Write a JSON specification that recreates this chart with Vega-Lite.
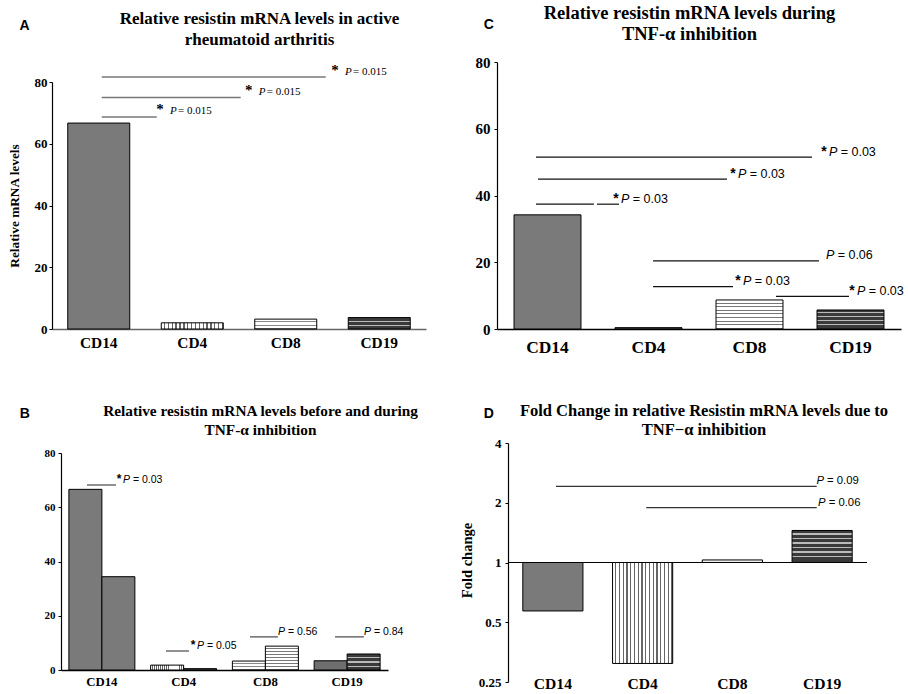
{
  "$schema": "https://vega.github.io/schema/vega-lite/v6.json",
  "padding": 0,
  "background": "white",
  "config": {
    "view": {"stroke": null},
    "axis": {"grid": false, "labelColor": "#000", "titleColor": "#000", "domainColor": "#000", "tickColor": "#000", "labelFont": "Liberation Serif", "labelFontWeight": "bold"}
  },
  "datasets": {
    "abar": [{"cell": "CD14", "v": 66.7}, {"cell": "CD4", "v": 2.0}, {"cell": "CD8", "v": 3.2}, {"cell": "CD19", "v": 3.7}],
    "anote": [
      {"x1": 0.532, "x2": 1.12, "v": 68.7, "lx": 1.262, "star": "*", "p": "P", "rest": "= 0.015"},
      {"x1": 0.532, "x2": 2.018, "v": 75.0, "lx": 2.211, "star": "*", "p": "P", "rest": "= 0.015"},
      {"x1": 0.532, "x2": 2.927, "v": 81.6, "lx": 3.134, "star": "*", "p": "P", "rest": "= 0.015"}
    ],
    "bbar": [
      {"cell": "CD14", "t": "before", "v": 66.6}, {"cell": "CD14", "t": "during", "v": 34.4},
      {"cell": "CD4", "t": "before", "v": 1.8}, {"cell": "CD4", "t": "during", "v": 0.5},
      {"cell": "CD8", "t": "before", "v": 3.3}, {"cell": "CD8", "t": "during", "v": 8.8},
      {"cell": "CD19", "t": "before", "v": 3.4}, {"cell": "CD19", "t": "during", "v": 5.9}
    ],
    "bnote": [
      {"x1": 0.318, "x2": 0.673, "v": 68.2, "lx": 0.758, "star": "*", "p": "P", "rest": "= 0.03"},
      {"x1": 1.284, "x2": 1.566, "v": 7.0, "lx": 1.664, "star": "*", "p": "P", "rest": "= 0.05"},
      {"x1": 2.312, "x2": 2.654, "v": 12.2, "lx": 2.654, "star": "", "p": "P", "rest": "= 0.56"},
      {"x1": 3.352, "x2": 3.706, "v": 12.2, "lx": 3.706, "star": "", "p": "P", "rest": "= 0.84"}
    ],
    "cbar": [{"cell": "CD14", "v": 34.2}, {"cell": "CD4", "v": 0.4}, {"cell": "CD8", "v": 8.7}, {"cell": "CD19", "v": 5.7}],
    "cnote": [
      {"x1": 0.386, "x2": 3.119, "v": 51.5, "lx": 3.287, "star": "*", "p": "P", "rest": "= 0.03"},
      {"x1": 0.406, "x2": 2.277, "v": 44.9, "lx": 2.386, "star": "*", "p": "P", "rest": "= 0.03"},
      {"x1": 0.386, "x2": 0.96, "v": 37.4, "lx": 1.228, "star": "*", "p": "P", "rest": "= 0.03"},
      {"x1": 0.99, "x2": 1.208, "v": 37.4, "lx": 1.228, "star": "", "p": "", "rest": ""},
      {"x1": 1.545, "x2": 3.188, "v": 20.4, "lx": 3.257, "star": "", "p": "P", "rest": "= 0.06"},
      {"x1": 1.545, "x2": 2.337, "v": 12.7, "lx": 2.436, "star": "*", "p": "P", "rest": "= 0.03"},
      {"x1": 2.762, "x2": 3.485, "v": 9.8, "lx": 3.564, "star": "*", "p": "P", "rest": "= 0.03"}
    ],
    "dbar": [{"cell": "CD14", "v": 0.57}, {"cell": "CD4", "v": 0.31}, {"cell": "CD8", "v": 1.03}, {"cell": "CD19", "v": 1.45}],
    "dnote": [
      {"x1": 0.535, "x2": 3.44, "v": 2.42, "lx": 3.437, "star": "", "p": "P", "rest": "= 0.09"},
      {"x1": 1.54, "x2": 3.44, "v": 1.89, "lx": 3.455, "star": "", "p": "P", "rest": "= 0.06"}
    ]
  },
  "hconcat": [
    {
      "spacing": 0,
      "vconcat": [
        {
          "width": 365, "height": 247,
          "layer": [
            {
              "data": {"name": "abar"},
              "mark": {"type": "bar", "stroke": "#000", "strokeWidth": 1},
              "encoding": {
                "x": {"field": "cell", "type": "nominal", "sort": ["CD14", "CD4", "CD8", "CD19"],
                  "scale": {"domain": ["CD14", "CD4", "CD8", "CD19"], "range": [-9, 365], "paddingInner": 0.337, "paddingOuter": 0.1685},
                  "axis": {"orient": "bottom", "labelAngle": 0, "labelFontSize": 15.4, "labelPadding": 6, "ticks": false, "tickSize": 0, "domainColor": "#666", "domainWidth": 1.5, "minExtent": 30, "maxExtent": 30,
                    "title": "A", "titleX": -42, "titleY": -300, "titleAngle": 0, "titleAlign": "left", "titleBaseline": "alphabetic", "titleFont": "Liberation Sans", "titleFontSize": 14, "titleFontWeight": "bold"}},
                "y": {"field": "v", "type": "quantitative", "scale": {"domain": [0, 80]},
                  "axis": {"offset": 9, "values": [0, 20, 40, 60, 80], "labelFontSize": 13, "tickSize": 3, "labelPadding": 2, "domainWidth": 1.2, "minExtent": 52, "maxExtent": 52,
                    "title": "Relative mRNA levels", "titleX": -37.5, "titleY": 123.5, "titleAngle": -90, "titleAlign": "center", "titleBaseline": "middle", "titleFont": "Liberation Serif", "titleFontSize": 13.3, "titleFontWeight": "bold"}},
                "fill": {
                  "condition": [
                    {"test": "datum.cell === 'CD4'", "value": {"gradient": "linear", "x1": 0, "y1": 0, "x2": 1, "y2": 0, "stops": [
                      {"offset": 0, "color": "#fff"}, {"offset": 0.0406, "color": "#fff"}, {"offset": 0.0406, "color": "#666"}, {"offset": 0.0625, "color": "#666"},
                      {"offset": 0.0625, "color": "#fff"}, {"offset": 0.1031, "color": "#fff"}, {"offset": 0.1031, "color": "#666"}, {"offset": 0.125, "color": "#666"},
                      {"offset": 0.125, "color": "#fff"}, {"offset": 0.1656, "color": "#fff"}, {"offset": 0.1656, "color": "#666"}, {"offset": 0.1875, "color": "#666"},
                      {"offset": 0.1875, "color": "#fff"}, {"offset": 0.2281, "color": "#fff"}, {"offset": 0.2281, "color": "#666"}, {"offset": 0.25, "color": "#666"},
                      {"offset": 0.25, "color": "#fff"}, {"offset": 0.2906, "color": "#fff"}, {"offset": 0.2906, "color": "#666"}, {"offset": 0.3125, "color": "#666"},
                      {"offset": 0.3125, "color": "#fff"}, {"offset": 0.3531, "color": "#fff"}, {"offset": 0.3531, "color": "#666"}, {"offset": 0.375, "color": "#666"},
                      {"offset": 0.375, "color": "#fff"}, {"offset": 0.4156, "color": "#fff"}, {"offset": 0.4156, "color": "#666"}, {"offset": 0.4375, "color": "#666"},
                      {"offset": 0.4375, "color": "#fff"}, {"offset": 0.4781, "color": "#fff"}, {"offset": 0.4781, "color": "#666"}, {"offset": 0.5, "color": "#666"},
                      {"offset": 0.5, "color": "#fff"}, {"offset": 0.5406, "color": "#fff"}, {"offset": 0.5406, "color": "#666"}, {"offset": 0.5625, "color": "#666"},
                      {"offset": 0.5625, "color": "#fff"}, {"offset": 0.6031, "color": "#fff"}, {"offset": 0.6031, "color": "#666"}, {"offset": 0.625, "color": "#666"},
                      {"offset": 0.625, "color": "#fff"}, {"offset": 0.6656, "color": "#fff"}, {"offset": 0.6656, "color": "#666"}, {"offset": 0.6875, "color": "#666"},
                      {"offset": 0.6875, "color": "#fff"}, {"offset": 0.7281, "color": "#fff"}, {"offset": 0.7281, "color": "#666"}, {"offset": 0.75, "color": "#666"},
                      {"offset": 0.75, "color": "#fff"}, {"offset": 0.7906, "color": "#fff"}, {"offset": 0.7906, "color": "#666"}, {"offset": 0.8125, "color": "#666"},
                      {"offset": 0.8125, "color": "#fff"}, {"offset": 0.8531, "color": "#fff"}, {"offset": 0.8531, "color": "#666"}, {"offset": 0.875, "color": "#666"},
                      {"offset": 0.875, "color": "#fff"}, {"offset": 0.9156, "color": "#fff"}, {"offset": 0.9156, "color": "#666"}, {"offset": 0.9375, "color": "#666"},
                      {"offset": 0.9375, "color": "#fff"}, {"offset": 0.9781, "color": "#fff"}, {"offset": 0.9781, "color": "#666"}, {"offset": 1, "color": "#666"}]}},
                    {"test": "datum.cell === 'CD8'", "value": {"gradient": "linear", "x1": 0, "y1": 0, "x2": 0, "y2": 1, "stops": [
                      {"offset": 0, "color": "#fff"}, {"offset": 0.2333, "color": "#fff"}, {"offset": 0.2333, "color": "#888"}, {"offset": 0.3333, "color": "#888"},
                      {"offset": 0.3333, "color": "#fff"}, {"offset": 0.5667, "color": "#fff"}, {"offset": 0.5667, "color": "#888"}, {"offset": 0.6667, "color": "#888"},
                      {"offset": 0.6667, "color": "#fff"}, {"offset": 0.9, "color": "#fff"}, {"offset": 0.9, "color": "#888"}, {"offset": 1, "color": "#888"}]}},
                    {"test": "datum.cell === 'CD19'", "value": {"gradient": "linear", "x1": 0, "y1": 0, "x2": 0, "y2": 1, "stops": [
                      {"offset": 0, "color": "#3a3a3a"}, {"offset": 0.28, "color": "#3a3a3a"}, {"offset": 0.28, "color": "#bbb"}, {"offset": 0.38, "color": "#bbb"},
                      {"offset": 0.38, "color": "#3a3a3a"}, {"offset": 0.62, "color": "#3a3a3a"}, {"offset": 0.62, "color": "#bbb"}, {"offset": 0.72, "color": "#bbb"},
                      {"offset": 0.72, "color": "#3a3a3a"}, {"offset": 1, "color": "#3a3a3a"}]}}
                  ],
                  "value": "#7a7a7a"
                }
              }
            },
            {
              "data": {"name": "anote"},
              "layer": [
                {"mark": {"type": "rule", "stroke": "#777", "strokeWidth": 1.5},
                  "encoding": {
                    "x": {"field": "x1", "type": "quantitative", "scale": {"domain": [0, 4], "range": [-9, 365], "nice": false, "zero": false},
                      "axis": {"orient": "top", "domain": false, "ticks": false, "labels": false, "minExtent": 82, "maxExtent": 82,
                        "title": ["Relative resistin mRNA levels in active", "rheumatoid arthritis\u00a0\u00a0\u00a0\u00a0\u00a0\u00a0\u00a0\u00a0"],
                        "titleX": 198, "titleY": -58.5, "titleAlign": "center", "titleBaseline": "alphabetic", "titleFont": "Liberation Serif", "titleFontSize": 17, "titleFontWeight": "bold", "titleLineHeight": 21}},
                    "x2": {"field": "x2"},
                    "y": {"field": "v", "type": "quantitative", "scale": {"domain": [0, 80]}}}},
                {"mark": {"type": "text", "align": "center", "baseline": "alphabetic", "dx": -10, "dy": -2.5, "font": "Liberation Serif", "fontSize": 15, "fontWeight": "bold", "fill": "#000"},
                  "encoding": {"x": {"field": "lx", "type": "quantitative", "scale": {"domain": [0, 4], "range": [-9, 365]}}, "y": {"field": "v", "type": "quantitative", "scale": {"domain": [0, 80]}}, "text": {"field": "star"}}},
                {"mark": {"type": "text", "align": "left", "baseline": "alphabetic", "dy": -2.5, "font": "Liberation Serif", "fontSize": 11, "fontStyle": "italic", "fill": "#000"},
                  "encoding": {"x": {"field": "lx", "type": "quantitative", "scale": {"domain": [0, 4], "range": [-9, 365]}}, "y": {"field": "v", "type": "quantitative", "scale": {"domain": [0, 80]}}, "text": {"field": "p"}}},
                {"mark": {"type": "text", "align": "left", "baseline": "alphabetic", "dx": 8, "dy": -2.5, "font": "Liberation Serif", "fontSize": 11, "fill": "#000"},
                  "encoding": {"x": {"field": "lx", "type": "quantitative", "scale": {"domain": [0, 4], "range": [-9, 365]}}, "y": {"field": "v", "type": "quantitative", "scale": {"domain": [0, 80]}}, "text": {"field": "rest"}}}
              ]
            }
          ],
          "resolve": {"scale": {"x": "independent"}, "axis": {"x": "independent"}}
        },
        {
          "width": 327, "height": 217,
          "layer": [
            {
              "data": {"name": "bbar"},
              "mark": {"type": "bar", "stroke": "#000", "strokeWidth": 1},
              "encoding": {
                "x": {"field": "cell", "type": "nominal", "sort": ["CD14", "CD4", "CD8", "CD19"],
                  "scale": {"domain": ["CD14", "CD4", "CD8", "CD19"], "paddingInner": 0.193, "paddingOuter": 0.0965},
                  "axis": {"orient": "bottom", "labelAngle": 0, "labelFontSize": 12.8, "labelPadding": 5, "ticks": false, "tickSize": 0, "domainWidth": 1.3,
                    "title": "B", "titleX": -41.7, "titleY": -253, "titleAngle": 0, "titleAlign": "left", "titleBaseline": "alphabetic", "titleFont": "Liberation Sans", "titleFontSize": 14, "titleFontWeight": "bold"}},
                "xOffset": {"field": "t", "type": "nominal", "sort": ["before", "during"], "scale": {"paddingInner": 0, "paddingOuter": 0}},
                "y": {"field": "v", "type": "quantitative", "scale": {"domain": [0, 80]},
                  "axis": {"values": [0, 20, 40, 60, 80], "labelFontSize": 11, "tickSize": 3, "labelPadding": 3, "domainWidth": 1.2, "minExtent": 61, "maxExtent": 61, "title": null}},
                "fill": {
                  "condition": [
                    {"test": "datum.cell === 'CD4' && datum.t === 'before'", "value": {"gradient": "linear", "x1": 0, "y1": 0, "x2": 1, "y2": 0, "stops": [
                      {"offset": 0, "color": "#fff"}, {"offset": 0.0406, "color": "#fff"}, {"offset": 0.0406, "color": "#666"}, {"offset": 0.0625, "color": "#666"},
                      {"offset": 0.0625, "color": "#fff"}, {"offset": 0.1031, "color": "#fff"}, {"offset": 0.1031, "color": "#666"}, {"offset": 0.125, "color": "#666"},
                      {"offset": 0.125, "color": "#fff"}, {"offset": 0.1656, "color": "#fff"}, {"offset": 0.1656, "color": "#666"}, {"offset": 0.1875, "color": "#666"},
                      {"offset": 0.1875, "color": "#fff"}, {"offset": 0.2281, "color": "#fff"}, {"offset": 0.2281, "color": "#666"}, {"offset": 0.25, "color": "#666"},
                      {"offset": 0.25, "color": "#fff"}, {"offset": 0.2906, "color": "#fff"}, {"offset": 0.2906, "color": "#666"}, {"offset": 0.3125, "color": "#666"},
                      {"offset": 0.3125, "color": "#fff"}, {"offset": 0.3531, "color": "#fff"}, {"offset": 0.3531, "color": "#666"}, {"offset": 0.375, "color": "#666"},
                      {"offset": 0.375, "color": "#fff"}, {"offset": 0.4156, "color": "#fff"}, {"offset": 0.4156, "color": "#666"}, {"offset": 0.4375, "color": "#666"},
                      {"offset": 0.4375, "color": "#fff"}, {"offset": 0.4781, "color": "#fff"}, {"offset": 0.4781, "color": "#666"}, {"offset": 0.5, "color": "#666"},
                      {"offset": 0.5, "color": "#fff"}, {"offset": 0.5406, "color": "#fff"}, {"offset": 0.5406, "color": "#666"}, {"offset": 0.5625, "color": "#666"},
                      {"offset": 0.5625, "color": "#fff"}, {"offset": 0.6031, "color": "#fff"}, {"offset": 0.6031, "color": "#666"}, {"offset": 0.625, "color": "#666"},
                      {"offset": 0.625, "color": "#fff"}, {"offset": 0.6656, "color": "#fff"}, {"offset": 0.6656, "color": "#666"}, {"offset": 0.6875, "color": "#666"},
                      {"offset": 0.6875, "color": "#fff"}, {"offset": 0.7281, "color": "#fff"}, {"offset": 0.7281, "color": "#666"}, {"offset": 0.75, "color": "#666"},
                      {"offset": 0.75, "color": "#fff"}, {"offset": 0.7906, "color": "#fff"}, {"offset": 0.7906, "color": "#666"}, {"offset": 0.8125, "color": "#666"},
                      {"offset": 0.8125, "color": "#fff"}, {"offset": 0.8531, "color": "#fff"}, {"offset": 0.8531, "color": "#666"}, {"offset": 0.875, "color": "#666"},
                      {"offset": 0.875, "color": "#fff"}, {"offset": 0.9156, "color": "#fff"}, {"offset": 0.9156, "color": "#666"}, {"offset": 0.9375, "color": "#666"},
                      {"offset": 0.9375, "color": "#fff"}, {"offset": 0.9781, "color": "#fff"}, {"offset": 0.9781, "color": "#666"}, {"offset": 1, "color": "#666"}]}},
                    {"test": "datum.cell === 'CD8' && datum.t === 'before'", "value": {"gradient": "linear", "x1": 0, "y1": 0, "x2": 0, "y2": 1, "stops": [
                      {"offset": 0, "color": "#fff"}, {"offset": 0.2333, "color": "#fff"}, {"offset": 0.2333, "color": "#888"}, {"offset": 0.3333, "color": "#888"},
                      {"offset": 0.3333, "color": "#fff"}, {"offset": 0.5667, "color": "#fff"}, {"offset": 0.5667, "color": "#888"}, {"offset": 0.6667, "color": "#888"},
                      {"offset": 0.6667, "color": "#fff"}, {"offset": 0.9, "color": "#fff"}, {"offset": 0.9, "color": "#888"}, {"offset": 1, "color": "#888"}]}},
                    {"test": "datum.cell === 'CD8' && datum.t === 'during'", "value": {"gradient": "linear", "x1": 0, "y1": 0, "x2": 0, "y2": 1, "stops": [
                      {"offset": 0, "color": "#fff"}, {"offset": 0.0875, "color": "#fff"}, {"offset": 0.0875, "color": "#777"}, {"offset": 0.125, "color": "#777"},
                      {"offset": 0.125, "color": "#fff"}, {"offset": 0.2125, "color": "#fff"}, {"offset": 0.2125, "color": "#777"}, {"offset": 0.25, "color": "#777"},
                      {"offset": 0.25, "color": "#fff"}, {"offset": 0.3375, "color": "#fff"}, {"offset": 0.3375, "color": "#777"}, {"offset": 0.375, "color": "#777"},
                      {"offset": 0.375, "color": "#fff"}, {"offset": 0.4625, "color": "#fff"}, {"offset": 0.4625, "color": "#777"}, {"offset": 0.5, "color": "#777"},
                      {"offset": 0.5, "color": "#fff"}, {"offset": 0.5875, "color": "#fff"}, {"offset": 0.5875, "color": "#777"}, {"offset": 0.625, "color": "#777"},
                      {"offset": 0.625, "color": "#fff"}, {"offset": 0.7125, "color": "#fff"}, {"offset": 0.7125, "color": "#777"}, {"offset": 0.75, "color": "#777"},
                      {"offset": 0.75, "color": "#fff"}, {"offset": 0.8375, "color": "#fff"}, {"offset": 0.8375, "color": "#777"}, {"offset": 0.875, "color": "#777"},
                      {"offset": 0.875, "color": "#fff"}, {"offset": 0.9625, "color": "#fff"}, {"offset": 0.9625, "color": "#777"}, {"offset": 1, "color": "#777"}]}},
                    {"test": "datum.cell === 'CD4'", "value": "#505050"},
                    {"test": "datum.cell === 'CD19' && datum.t === 'before'", "value": "#6e6e6e"},
                    {"test": "datum.cell === 'CD19'", "value": {"gradient": "linear", "x1": 0, "y1": 0, "x2": 0, "y2": 1, "stops": [
                      {"offset": 0, "color": "#3a3a3a"}, {"offset": 0.2, "color": "#3a3a3a"}, {"offset": 0.2, "color": "#bbb"}, {"offset": 0.28, "color": "#bbb"},
                      {"offset": 0.28, "color": "#3a3a3a"}, {"offset": 0.46, "color": "#3a3a3a"}, {"offset": 0.46, "color": "#bbb"}, {"offset": 0.54, "color": "#bbb"},
                      {"offset": 0.54, "color": "#3a3a3a"}, {"offset": 0.72, "color": "#3a3a3a"}, {"offset": 0.72, "color": "#bbb"}, {"offset": 0.8, "color": "#bbb"},
                      {"offset": 0.8, "color": "#3a3a3a"}, {"offset": 1, "color": "#3a3a3a"}]}}
                  ],
                  "value": "#7a7a7a"
                }
              }
            },
            {
              "data": {"name": "bnote"},
              "layer": [
                {"mark": {"type": "rule", "stroke": "#222", "strokeWidth": 1},
                  "encoding": {
                    "x": {"field": "x1", "type": "quantitative", "scale": {"domain": [0, 4], "nice": false, "zero": false},
                      "axis": {"orient": "top", "domain": false, "ticks": false, "labels": false, "minExtent": 94, "maxExtent": 94,
                        "title": ["Relative resistin mRNA levels before and during", "TNF-\u03b1 inhibition\u00a0\u00a0\u00a0\u00a0\u00a0\u00a0\u00a0\u00a0\u00a0\u00a0\u00a0\u00a0\u00a0"],
                        "titleX": 199, "titleY": -38, "titleAlign": "center", "titleBaseline": "alphabetic", "titleFont": "Liberation Serif", "titleFontSize": 15.3, "titleFontWeight": "bold", "titleLineHeight": 19}},
                    "x2": {"field": "x2"},
                    "y": {"field": "v", "type": "quantitative", "scale": {"domain": [0, 80]}}}},
                {"mark": {"type": "text", "align": "center", "baseline": "alphabetic", "dx": -4, "dy": -2, "font": "Liberation Sans", "fontSize": 12, "fontWeight": "bold", "fill": "#000"},
                  "encoding": {"x": {"field": "lx", "type": "quantitative", "scale": {"domain": [0, 4]}}, "y": {"field": "v", "type": "quantitative", "scale": {"domain": [0, 80]}}, "text": {"field": "star"}}},
                {"mark": {"type": "text", "align": "left", "baseline": "alphabetic", "dy": -2, "font": "Liberation Sans", "fontSize": 10.5, "fontStyle": "italic", "fill": "#000"},
                  "encoding": {"x": {"field": "lx", "type": "quantitative", "scale": {"domain": [0, 4]}}, "y": {"field": "v", "type": "quantitative", "scale": {"domain": [0, 80]}}, "text": {"field": "p"}}},
                {"mark": {"type": "text", "align": "left", "baseline": "alphabetic", "dx": 10, "dy": -2, "font": "Liberation Sans", "fontSize": 10.5, "fill": "#000"},
                  "encoding": {"x": {"field": "lx", "type": "quantitative", "scale": {"domain": [0, 4]}}, "y": {"field": "v", "type": "quantitative", "scale": {"domain": [0, 80]}}, "text": {"field": "rest"}}}
              ]
            }
          ],
          "resolve": {"scale": {"x": "independent"}, "axis": {"x": "independent"}}
        }
      ]
    },
    {
      "spacing": 0,
      "vconcat": [
        {
          "width": 393, "height": 247,
          "layer": [
            {
              "data": {"name": "cbar"},
              "mark": {"type": "bar", "stroke": "#000", "strokeWidth": 1},
              "encoding": {
                "x": {"field": "cell", "type": "nominal", "sort": ["CD14", "CD4", "CD8", "CD19"],
                  "scale": {"domain": ["CD14", "CD4", "CD8", "CD19"], "range": [-11, 393], "paddingInner": 0.337, "paddingOuter": 0.1685},
                  "axis": {"orient": "bottom", "labelAngle": 0, "labelFontSize": 17.4, "labelPadding": 9, "ticks": false, "tickSize": 0, "domainWidth": 1.3, "minExtent": 30, "maxExtent": 30,
                    "title": "C", "titleX": -24.7, "titleY": -300.7, "titleAngle": 0, "titleAlign": "left", "titleBaseline": "alphabetic", "titleFont": "Liberation Sans", "titleFontSize": 14, "titleFontWeight": "bold"}},
                "y": {"field": "v", "type": "quantitative", "scale": {"domain": [0, 80], "range": [247, -20]},
                  "axis": {"offset": 11, "values": [0, 20, 40, 60, 80], "labelFontSize": 15, "tickSize": 3, "labelPadding": 4, "domainWidth": 1.2, "minExtent": 62, "maxExtent": 62, "title": null}},
                "fill": {
                  "condition": [
                    {"test": "datum.cell === 'CD8'", "value": {"gradient": "linear", "x1": 0, "y1": 0, "x2": 0, "y2": 1, "stops": [
                      {"offset": 0, "color": "#fff"}, {"offset": 0.0875, "color": "#fff"}, {"offset": 0.0875, "color": "#777"}, {"offset": 0.125, "color": "#777"},
                      {"offset": 0.125, "color": "#fff"}, {"offset": 0.2125, "color": "#fff"}, {"offset": 0.2125, "color": "#777"}, {"offset": 0.25, "color": "#777"},
                      {"offset": 0.25, "color": "#fff"}, {"offset": 0.3375, "color": "#fff"}, {"offset": 0.3375, "color": "#777"}, {"offset": 0.375, "color": "#777"},
                      {"offset": 0.375, "color": "#fff"}, {"offset": 0.4625, "color": "#fff"}, {"offset": 0.4625, "color": "#777"}, {"offset": 0.5, "color": "#777"},
                      {"offset": 0.5, "color": "#fff"}, {"offset": 0.5875, "color": "#fff"}, {"offset": 0.5875, "color": "#777"}, {"offset": 0.625, "color": "#777"},
                      {"offset": 0.625, "color": "#fff"}, {"offset": 0.7125, "color": "#fff"}, {"offset": 0.7125, "color": "#777"}, {"offset": 0.75, "color": "#777"},
                      {"offset": 0.75, "color": "#fff"}, {"offset": 0.8375, "color": "#fff"}, {"offset": 0.8375, "color": "#777"}, {"offset": 0.875, "color": "#777"},
                      {"offset": 0.875, "color": "#fff"}, {"offset": 0.9625, "color": "#fff"}, {"offset": 0.9625, "color": "#777"}, {"offset": 1, "color": "#777"}]}},
                    {"test": "datum.cell === 'CD4'", "value": "#505050"},
                    {"test": "datum.cell === 'CD19'", "value": {"gradient": "linear", "x1": 0, "y1": 0, "x2": 0, "y2": 1, "stops": [
                      {"offset": 0, "color": "#3a3a3a"}, {"offset": 0.12, "color": "#3a3a3a"}, {"offset": 0.12, "color": "#bbb"}, {"offset": 0.17, "color": "#bbb"},
                      {"offset": 0.17, "color": "#3a3a3a"}, {"offset": 0.32, "color": "#3a3a3a"}, {"offset": 0.32, "color": "#bbb"}, {"offset": 0.37, "color": "#bbb"},
                      {"offset": 0.37, "color": "#3a3a3a"}, {"offset": 0.52, "color": "#3a3a3a"}, {"offset": 0.52, "color": "#bbb"}, {"offset": 0.57, "color": "#bbb"},
                      {"offset": 0.57, "color": "#3a3a3a"}, {"offset": 0.72, "color": "#3a3a3a"}, {"offset": 0.72, "color": "#bbb"}, {"offset": 0.77, "color": "#bbb"},
                      {"offset": 0.77, "color": "#3a3a3a"}, {"offset": 1, "color": "#3a3a3a"}]}}
                  ],
                  "value": "#7a7a7a"
                }
              }
            },
            {
              "data": {"name": "cnote"},
              "layer": [
                {"mark": {"type": "rule", "stroke": "#111", "strokeWidth": 1.2},
                  "encoding": {
                    "x": {"field": "x1", "type": "quantitative", "scale": {"domain": [0, 4], "range": [-11, 393], "nice": false, "zero": false},
                      "axis": {"orient": "top", "domain": false, "ticks": false, "labels": false, "minExtent": 82, "maxExtent": 82,
                        "title": ["Relative resistin mRNA levels during", "TNF-\u03b1 inhibition\u00a0\u00a0\u00a0\u00a0\u00a0\u00a0"],
                        "titleX": 181, "titleY": -63.7, "titleAlign": "center", "titleBaseline": "alphabetic", "titleFont": "Liberation Serif", "titleFontSize": 18.5, "titleFontWeight": "bold", "titleLineHeight": 21}},
                    "x2": {"field": "x2"},
                    "y": {"field": "v", "type": "quantitative", "scale": {"domain": [0, 80], "range": [247, -20]}}}},
                {"mark": {"type": "text", "align": "center", "baseline": "alphabetic", "dx": -5, "dy": -1.5, "font": "Liberation Sans", "fontSize": 14, "fontWeight": "bold", "fill": "#000"},
                  "encoding": {"x": {"field": "lx", "type": "quantitative", "scale": {"domain": [0, 4], "range": [-11, 393]}}, "y": {"field": "v", "type": "quantitative", "scale": {"domain": [0, 80], "range": [247, -20]}}, "text": {"field": "star"}}},
                {"mark": {"type": "text", "align": "left", "baseline": "alphabetic", "dy": -1.5, "font": "Liberation Sans", "fontSize": 12.5, "fontStyle": "italic", "fill": "#000"},
                  "encoding": {"x": {"field": "lx", "type": "quantitative", "scale": {"domain": [0, 4], "range": [-11, 393]}}, "y": {"field": "v", "type": "quantitative", "scale": {"domain": [0, 80], "range": [247, -20]}}, "text": {"field": "p"}}},
                {"mark": {"type": "text", "align": "left", "baseline": "alphabetic", "dx": 11.7, "dy": -1.5, "font": "Liberation Sans", "fontSize": 12.5, "fill": "#000"},
                  "encoding": {"x": {"field": "lx", "type": "quantitative", "scale": {"domain": [0, 4], "range": [-11, 393]}}, "y": {"field": "v", "type": "quantitative", "scale": {"domain": [0, 80], "range": [247, -20]}}, "text": {"field": "rest"}}}
              ]
            }
          ],
          "resolve": {"scale": {"x": "independent"}, "axis": {"x": "independent"}}
        },
        {
          "width": 359, "height": 239,
          "layer": [
            {
              "data": {"name": "dbar"},
              "layer": [
                {
                  "mark": {"type": "bar", "stroke": "#000", "strokeWidth": 1},
                  "encoding": {
                    "x": {"field": "cell", "type": "nominal", "sort": ["CD14", "CD4", "CD8", "CD19"],
                      "scale": {"domain": ["CD14", "CD4", "CD8", "CD19"], "paddingInner": 0.33, "paddingOuter": 0.165},
                      "axis": {"orient": "bottom", "labelAngle": 0, "labelFontSize": 15.6, "labelPadding": -5.3, "ticks": false, "tickSize": 0, "domain": false,
                        "title": "D", "titleX": -24.7, "titleY": -264.7, "titleAngle": 0, "titleAlign": "left", "titleBaseline": "alphabetic", "titleFont": "Liberation Sans", "titleFontSize": 14, "titleFontWeight": "bold"}},
                    "y": {"field": "v", "type": "quantitative", "scale": {"type": "log", "base": 2, "domain": [0.25, 4]},
                      "axis": {"values": [0.25, 0.5, 1, 2, 4], "format": "~g", "labelFontSize": 13, "tickSize": 3, "labelPadding": 4, "domainWidth": 1.2, "minExtent": 73, "maxExtent": 73,
                        "title": "Fold change", "titleX": -41, "titleY": 117, "titleAngle": -90, "titleAlign": "center", "titleBaseline": "middle", "titleFont": "Liberation Serif", "titleFontSize": 14.5, "titleFontWeight": "bold"}},
                    "y2": {"datum": 1},
                    "fill": {
                      "condition": [
                        {"test": "datum.cell === 'CD4'", "value": {"gradient": "linear", "x1": 0, "y1": 0, "x2": 1, "y2": 0, "stops": [
                          {"offset": 0, "color": "#fff"}, {"offset": 0.0406, "color": "#fff"}, {"offset": 0.0406, "color": "#666"}, {"offset": 0.0625, "color": "#666"},
                          {"offset": 0.0625, "color": "#fff"}, {"offset": 0.1031, "color": "#fff"}, {"offset": 0.1031, "color": "#666"}, {"offset": 0.125, "color": "#666"},
                          {"offset": 0.125, "color": "#fff"}, {"offset": 0.1656, "color": "#fff"}, {"offset": 0.1656, "color": "#666"}, {"offset": 0.1875, "color": "#666"},
                          {"offset": 0.1875, "color": "#fff"}, {"offset": 0.2281, "color": "#fff"}, {"offset": 0.2281, "color": "#666"}, {"offset": 0.25, "color": "#666"},
                          {"offset": 0.25, "color": "#fff"}, {"offset": 0.2906, "color": "#fff"}, {"offset": 0.2906, "color": "#666"}, {"offset": 0.3125, "color": "#666"},
                          {"offset": 0.3125, "color": "#fff"}, {"offset": 0.3531, "color": "#fff"}, {"offset": 0.3531, "color": "#666"}, {"offset": 0.375, "color": "#666"},
                          {"offset": 0.375, "color": "#fff"}, {"offset": 0.4156, "color": "#fff"}, {"offset": 0.4156, "color": "#666"}, {"offset": 0.4375, "color": "#666"},
                          {"offset": 0.4375, "color": "#fff"}, {"offset": 0.4781, "color": "#fff"}, {"offset": 0.4781, "color": "#666"}, {"offset": 0.5, "color": "#666"},
                          {"offset": 0.5, "color": "#fff"}, {"offset": 0.5406, "color": "#fff"}, {"offset": 0.5406, "color": "#666"}, {"offset": 0.5625, "color": "#666"},
                          {"offset": 0.5625, "color": "#fff"}, {"offset": 0.6031, "color": "#fff"}, {"offset": 0.6031, "color": "#666"}, {"offset": 0.625, "color": "#666"},
                          {"offset": 0.625, "color": "#fff"}, {"offset": 0.6656, "color": "#fff"}, {"offset": 0.6656, "color": "#666"}, {"offset": 0.6875, "color": "#666"},
                          {"offset": 0.6875, "color": "#fff"}, {"offset": 0.7281, "color": "#fff"}, {"offset": 0.7281, "color": "#666"}, {"offset": 0.75, "color": "#666"},
                          {"offset": 0.75, "color": "#fff"}, {"offset": 0.7906, "color": "#fff"}, {"offset": 0.7906, "color": "#666"}, {"offset": 0.8125, "color": "#666"},
                          {"offset": 0.8125, "color": "#fff"}, {"offset": 0.8531, "color": "#fff"}, {"offset": 0.8531, "color": "#666"}, {"offset": 0.875, "color": "#666"},
                          {"offset": 0.875, "color": "#fff"}, {"offset": 0.9156, "color": "#fff"}, {"offset": 0.9156, "color": "#666"}, {"offset": 0.9375, "color": "#666"},
                          {"offset": 0.9375, "color": "#fff"}, {"offset": 0.9781, "color": "#fff"}, {"offset": 0.9781, "color": "#666"}, {"offset": 1, "color": "#666"}]}},
                        {"test": "datum.cell === 'CD8'", "value": "#f2f2f2"},
                        {"test": "datum.cell === 'CD19'", "value": {"gradient": "linear", "x1": 0, "y1": 0, "x2": 0, "y2": 1, "stops": [
                          {"offset": 0, "color": "#3a3a3a"}, {"offset": 0.09, "color": "#3a3a3a"}, {"offset": 0.09, "color": "#bbb"}, {"offset": 0.13, "color": "#bbb"},
                          {"offset": 0.13, "color": "#3a3a3a"}, {"offset": 0.23, "color": "#3a3a3a"}, {"offset": 0.23, "color": "#bbb"}, {"offset": 0.27, "color": "#bbb"},
                          {"offset": 0.27, "color": "#3a3a3a"}, {"offset": 0.37, "color": "#3a3a3a"}, {"offset": 0.37, "color": "#bbb"}, {"offset": 0.41, "color": "#bbb"},
                          {"offset": 0.41, "color": "#3a3a3a"}, {"offset": 0.51, "color": "#3a3a3a"}, {"offset": 0.51, "color": "#bbb"}, {"offset": 0.55, "color": "#bbb"},
                          {"offset": 0.55, "color": "#3a3a3a"}, {"offset": 0.65, "color": "#3a3a3a"}, {"offset": 0.65, "color": "#bbb"}, {"offset": 0.69, "color": "#bbb"},
                          {"offset": 0.69, "color": "#3a3a3a"}, {"offset": 0.79, "color": "#3a3a3a"}, {"offset": 0.79, "color": "#bbb"}, {"offset": 0.83, "color": "#bbb"},
                          {"offset": 0.83, "color": "#3a3a3a"}, {"offset": 1, "color": "#3a3a3a"}]}}
                      ],
                      "value": "#7a7a7a"
                    }
                  }
                },
                {"mark": {"type": "rule", "stroke": "#000", "strokeWidth": 1.2}, "encoding": {"y": {"datum": 1}}}
              ]
            },
            {
              "data": {"name": "dnote"},
              "layer": [
                {"mark": {"type": "rule", "stroke": "#333", "strokeWidth": 1.3},
                  "encoding": {
                    "x": {"field": "x1", "type": "quantitative", "scale": {"domain": [0, 4], "nice": false, "zero": false},
                      "axis": {"orient": "top", "domain": false, "ticks": false, "labels": false, "minExtent": 84, "maxExtent": 84,
                        "title": ["Fold Change in relative Resistin mRNA levels due to", "TNF\u2212\u03b1 inhibition\u00a0\u00a0\u00a0\u00a0\u00a0\u00a0\u00a0\u00a0\u00a0\u00a0\u00a0"],
                        "titleX": 195.5, "titleY": -28, "titleAlign": "center", "titleBaseline": "alphabetic", "titleFont": "Liberation Serif", "titleFontSize": 16.5, "titleFontWeight": "bold", "titleLineHeight": 19.5}},
                    "x2": {"field": "x2"},
                    "y": {"field": "v", "type": "quantitative", "scale": {"type": "log", "base": 2, "domain": [0.25, 4]}}}},
                {"mark": {"type": "text", "align": "left", "baseline": "alphabetic", "dy": -2, "font": "Liberation Sans", "fontSize": 11.3, "fontStyle": "italic", "fill": "#000"},
                  "encoding": {"x": {"field": "lx", "type": "quantitative", "scale": {"domain": [0, 4]}}, "y": {"field": "v", "type": "quantitative", "scale": {"type": "log", "base": 2, "domain": [0.25, 4]}}, "text": {"field": "p"}}},
                {"mark": {"type": "text", "align": "left", "baseline": "alphabetic", "dx": 10.6, "dy": -2, "font": "Liberation Sans", "fontSize": 11.3, "fill": "#000"},
                  "encoding": {"x": {"field": "lx", "type": "quantitative", "scale": {"domain": [0, 4]}}, "y": {"field": "v", "type": "quantitative", "scale": {"type": "log", "base": 2, "domain": [0.25, 4]}}, "text": {"field": "rest"}}}
              ]
            }
          ],
          "resolve": {"scale": {"x": "independent"}, "axis": {"x": "independent"}}
        }
      ]
    }
  ],
  "spacing": 0
}
